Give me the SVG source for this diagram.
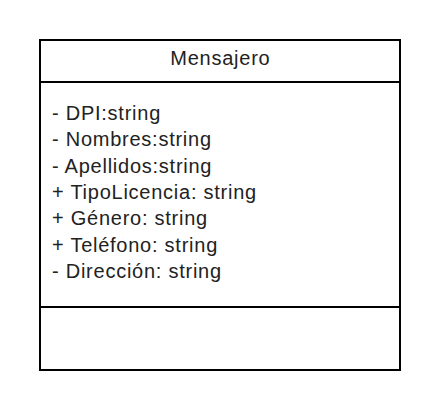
<svg xmlns="http://www.w3.org/2000/svg" width="440" height="411" viewBox="0 0 440 411">
<style>
.box{fill:#fff;stroke:#000;stroke-width:2}
.ln{stroke:#000;stroke-width:2}
text{font-family:"Liberation Sans",Arial,sans-serif;font-size:20px;letter-spacing:0.75px;fill:#222}
</style>
<rect width="440" height="411" fill="#fff"/>
<g id="Mensajero">
<rect class="box" x="40" y="40" width="360" height="330"/>
<line class="ln" x1="40" y1="82" x2="400" y2="82"/>
<line class="ln" x1="40" y1="307" x2="400" y2="307"/>
<text x="220.4" y="65" text-anchor="middle">Mensajero</text>
<text x="52" y="120">- DPI:string</text>
<text x="52" y="146.3">- Nombres:string</text>
<text x="52" y="172.6">- Apellidos:string</text>
<text x="52" y="199">+ TipoLicencia: string</text>
<text x="52" y="225.3">+ Género: string</text>
<text x="52" y="251.6">+ Teléfono: string</text>
<text x="52" y="278">- Dirección: string</text>
</g>
<g id="connectors"/>
</svg>
